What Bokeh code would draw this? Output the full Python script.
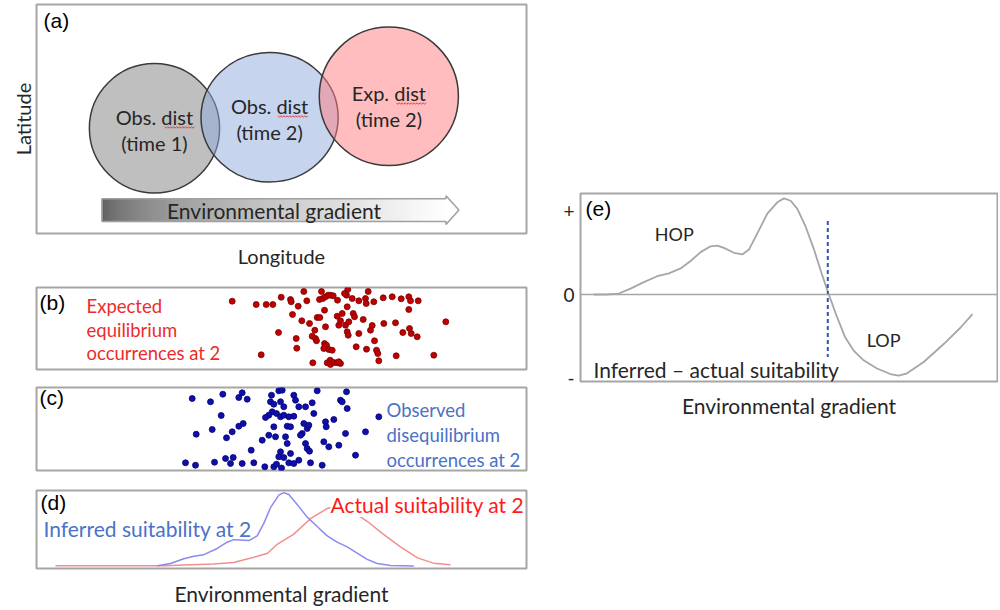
import numpy as np
from bokeh.plotting import figure
from bokeh.models import Label, Span, FixedTicker, Spacer, Range1d
from bokeh.layouts import row, column
from bokeh.embed import file_html
from bokeh.resources import INLINE

FONT = "Lato"
TAG_FONT = "Liberation Sans"
FRAME = "#a6a6a6"
TEXT = "#262626"

# ---------------- data ----------------
# (a) distributions (longitude / latitude units of the panel)
dist_names = ["Obs. dist", "Obs. dist", "Exp. dist"]
dist_times = ["(time 1)", "(time 2)", "(time 2)"]
dist_lon = [118.7, 234.5, 354.5]
dist_lat = [105.7, 116.7, 137.8]
dist_w = [131, 138, 140]
dist_h = [130, 130, 139]
dist_colors = ["#808080", "#8faadc", "#ff7c80"]

# (b) expected equilibrium occurrences at time 2
exp_x = [195.7, 219.7, 229.7, 236.3, 244.7, 254.0, 254.7, 261.7, 267.3, 270.3,
         256.0, 265.3, 273.0, 242.0, 259.7, 260.3, 224.7, 276.3, 278.3, 275.7,
         279.0, 280.0, 280.7, 283.3, 283.0, 285.0, 286.3, 289.0, 291.7, 294.0,
         296.7, 301.0, 288.0, 289.0, 288.0, 290.0, 287.3, 292.3, 295.7, 293.7,
         290.7, 294.0, 297.3, 300.7, 304.0, 302.3, 300.7, 302.3, 304.0, 305.7,
         310.7, 309.0, 310.0, 308.0, 311.3, 312.3, 310.7, 311.7, 315.7, 316.7,
         318.0, 319.7, 322.3, 322.3, 326.7, 329.0, 329.7, 330.0, 331.7, 334.0,
         335.7, 337.3, 338.0, 340.0, 341.3, 342.3, 346.7, 347.3, 355.7, 359.0,
         359.7, 364.7, 366.3, 372.3, 374.0, 372.3, 373.0, 374.7, 380.7, 381.7,
         397.3, 409.3]
exp_y = [68.3, 65, 65, 65, 72.3, 70, 67.7, 63.3, 78, 68.7,
         55, 48.7, 46, 37, 31, 21.3, 14.7, 6.7, 39.3, 33.3,
         31, 28.7, 52, 52, 70, 78, 71, 72.7, 74.3, 74.3,
         73.7, 69.3, 59.3, 42.7, 26, 24.3, 21, 20, 19.3, 9.3,
         6.7, 5, 7, 6.7, 6, 7.7, 53.3, 44.3, 48.7, 56,
         62.7, 44.3, 74.3, 76, 80, 47.7, 37.7, 34.3, 71, 56,
         52.7, 22.7, 36, 68.7, 50, 71, 66, 20.3, 78, 39.3,
         44, 67.7, 28.7, 19.3, 16, 8.7, 71.7, 46, 72.7, 46.7,
         13.7, 70.7, 37, 72.7, 68.7, 60, 41, 36, 32.7, 68.7,
         14.3, 47.7]

# (c) observed disequilibrium occurrences at time 2
obs_x = [155.7, 174.0, 186.3, 202.3, 205.7, 210.7, 184.7, 159.7, 175.7, 190.0,
         195.7, 202.3, 206.7, 214.7, 149.0, 159.0, 178.0, 189.0, 194.0, 196.7,
         205.7, 217.3, 228.3, 237.3, 242.3, 245.7, 235.0, 234.0, 237.3, 244.0,
         247.3, 235.7, 232.3, 229.0, 240.0, 244.0, 247.3, 257.3, 259.0, 262.3,
         269.0, 275.7, 280.7, 277.3, 257.3, 252.3, 250.7, 254.0, 237.3, 232.3,
         239.0, 225.7, 249.0, 250.7, 244.0, 242.3, 247.3, 254.0, 252.3, 257.3,
         240.0, 245.0, 262.3, 265.7, 270.7, 269.0, 270.7, 273.0, 274.0, 285.7,
         287.3, 292.3, 289.0, 289.7, 297.3, 302.3, 309.0, 310.7, 310.0, 304.0,
         305.7, 319.0, 329.0, 342.3, 267.3, 272.3, 264.0]
obs_y = [72, 68.7, 76.3, 73, 77.7, 71.3, 55, 36.3, 41, 32.7,
         38.7, 44.3, 47, 20.3, 7.7, 5.3, 8.3, 12, 7, 13,
         7, 7.7, 3.7, 3.7, 79.7, 80.3, 75.3, 68.7, 66.3, 68.7,
         63.7, 58.7, 55.3, 53, 57, 53.7, 55.3, 75.3, 70.3, 63.7,
         63.7, 67.7, 79.7, 57, 54.3, 53.7, 44.3, 43.7, 43.7, 35.3,
         33.7, 30.3, 33.7, 27, 18.7, 13.7, 13, 17, 7.7, 7,
         6.3, 2.5, 10.3, 37, 42, 27, 22, 19.3, 7.7, 5.3,
         28.7, 23.7, 48.7, 43.7, 51, 25.3, 37, 62, 78.7, 70.3,
         68.7, 15.3, 38.7, 53.7, 47, 45.3, 35.3]

# (d) suitability curves along the environmental gradient
inf_x = [120.7, 134, 147.3, 157.3, 167.3, 180.7, 190.7, 197.3, 204, 212.3, 220.7,
         227.3, 234, 242.3, 247.3, 252.3, 260.7, 270.7, 280.7, 290.7, 300.7,
         310.7, 320.7, 330.7, 340.7, 354, 377.3]
inf_y = [3, 5.3, 10.3, 13, 14.7, 21.3, 28, 30.7, 30.3, 29.7, 34.7,
         48, 64.7, 78, 80.7, 78.7, 68, 54.7, 44.7, 34.7, 28,
         23, 16.3, 9.7, 5.3, 3.3, 2.7]
act_x = [19, 127, 177, 197, 221, 231, 241, 257, 274, 291, 304, 317, 331, 347,
         364, 381, 397, 414]
act_y = [3, 3, 4.7, 6.3, 13, 16.3, 26, 36.3, 53, 64, 66.3, 60, 50, 36.3,
         23, 11.3, 5.7, 4]

# (e) inferred - actual suitability
diff_x = [3.2, 6.4, 9.2, 12.0, 15.2, 18.4, 21.2, 24.0, 26.4, 28.8, 31.2, 32.8,
          34.4, 36.8, 38.8, 40.4, 42.4, 44.8, 47.2, 48.8, 50.4, 52.0, 54.0, 56.0,
          58.0, 59.6, 61.6, 63.5, 65.5, 67.9, 71.1, 74.3, 76.3, 78.3, 82.3, 87.1,
          91.1, 94.0]
diff_y = [0, 0, 0.012, 0.071, 0.149, 0.220, 0.255, 0.314, 0.404, 0.510, 0.580,
          0.588, 0.561, 0.502, 0.482, 0.541, 0.737, 0.973, 1.110, 1.157, 1.129,
          1.031, 0.816, 0.541, 0.227, -0.008, -0.282, -0.518, -0.675, -0.792,
          -0.890, -0.957, -0.976, -0.949, -0.812, -0.596, -0.400, -0.235]
threshold_x = 59.3
threshold_y = [0.886, -0.753]
e_ticks = [-1, 0, 1]
e_tick_labels = ["-", "0", "+"]


# ---------------- helpers ----------------
def make_fig(w, h, xr, yr, left, right, top, bottom, xaxis=False, yaxis=False):
    p = figure(width=w, height=h, x_range=Range1d(*xr), y_range=Range1d(*yr),
               toolbar_location=None, output_backend="svg",
               x_axis_location="below" if xaxis else None,
               y_axis_location="left" if yaxis else None,
               min_border_left=left, min_border_right=right,
               min_border_top=top, min_border_bottom=bottom)
    p.xgrid.visible = False
    p.ygrid.visible = False
    p.outline_line_color = FRAME
    p.outline_line_width = 2
    p.background_fill_color = "white"
    p.border_fill_color = "white"
    return p


def label_axis(ax, text, standoff, size="20px"):
    ax.axis_label = text
    ax.axis_label_text_font = FONT
    ax.axis_label_text_font_size = size
    ax.axis_label_text_font_style = "normal"
    ax.axis_label_text_color = TEXT
    ax.axis_label_standoff = standoff
    ax.axis_line_color = None
    ax.major_tick_line_color = None
    ax.minor_tick_line_color = None
    ax.major_tick_out = 0
    ax.major_tick_in = 0
    ax.minor_tick_out = 0
    ax.minor_tick_in = 0
    ax.major_label_standoff = 0
    ax.ticker = FixedTicker(ticks=[])


def text(p, x, y, s, size="16px", color=TEXT, font=FONT, align="left", **kw):
    p.add_layout(Label(x=x, y=y, text=s, text_font=font, text_font_size=size,
                       text_color=color, text_align=align, text_baseline="middle", **kw))


# ---------------- panel (a) ----------------
pa = make_fig(540, 270, (0, 493), (0, 230), 33, 14, 4, 36, xaxis=True, yaxis=True)
label_axis(pa.xaxis[0], "Longitude", 10)
label_axis(pa.yaxis[0], "Latitude", 2)

pa.ellipse(x=dist_lon, y=dist_lat, width=dist_w, height=dist_h,
           fill_color=dist_colors, fill_alpha=0.5, line_color="#3a3a3a", line_width=1.5)
name_dy = [11, 11.5, 3.5]
time_dy = [-15, -14.5, -22.5]
for lon, lat, nm, tm, a, b in zip(dist_lon, dist_lat, dist_names, dist_times, name_dy, time_dy):
    text(pa, lon, lat + a, nm, size="20px", align="center")
    text(pa, lon, lat + b, tm, size="20px", align="center")

# red spell-check squiggles under the word "dist"
SQ_X0 = [129, 243, 362]
SQ_X1 = [159, 273, 392]
SQ_Y = [106.5, 117.5, 130.5]
for x0, x1, yy in zip(SQ_X0, SQ_X1, SQ_Y):
    sx = np.arange(x0, x1 + 0.1, 1.5)
    sy = yy + 0.8 * (-1.0) ** np.arange(len(sx))
    pa.line(sx, sy, line_color="#e02828", line_width=0.8)

# gradient arrow
AX0, AX1, ATIP, AY0, AY1, AH0, AH1 = 66, 412, 425, 12, 35, 9, 38
n = 150
edges = np.linspace(AX0, AX1, n + 1)
t = (edges[:-1] + edges[1:]) / 2
t = (t - AX0) / (AX1 - AX0)
lev = np.clip(92 + 163 * t ** 0.6, 0, 255).astype(int)
cols = ["#%02x%02x%02x" % (v, v, v) for v in lev]
pa.quad(left=edges[:-1], right=edges[1:], bottom=AY0, top=AY1,
        fill_color=cols, line_color=cols, line_width=1)
pa.patch([AX1, AX1, ATIP, AX1, AX1], [AY0, AH0, (AY0 + AY1) / 2, AH1, AY1],
         fill_color="white", line_color=None)
pa.line([AX1, AX0, AX0, AX1, AX1, ATIP, AX1, AX1],
        [AY1, AY1, AY0, AY0, AH0, (AY0 + AY1) / 2, AH1, AY1],
        line_color="#a0a0a0", line_width=1.5)
text(pa, 239, 23, "Environmental gradient", size="21px", align="center")
text(pa, 7, 214, "(a)", size="21px", font=TAG_FONT, color="black")

# ---------------- panel (b) ----------------
pb = make_fig(540, 108, (0, 490), (0, 82), 36, 14, 17, 9)
pb.scatter(exp_x, exp_y, size=6, fill_color="#c00000", line_color="#7a0000", line_width=0.8)
text(pb, 3, 67, "(b)", size="21px", font=TAG_FONT, color="black")
RED = "#ee2b2b"
text(pb, 50, 64, "Expected", size="18.5px", color=RED)
text(pb, 50, 39.5, "equilibrium", size="18.5px", color=RED)
text(pb, 50, 17, "occurrences at 2", size="18.5px", color=RED)

# ---------------- panel (c) ----------------
pc = make_fig(540, 100, (0, 490), (0, 83), 36, 14, 9, 8)
pc.scatter(obs_x, obs_y, size=6, fill_color="#1010a8", line_color="#00007a", line_width=0.8)
text(pc, 3, 73, "(c)", size="21px", font=TAG_FONT, color="black")
BLUE = "#4a72c8"
text(pc, 350, 61, "Observed", size="18.5px", color=BLUE)
text(pc, 350, 36, "disequilibrium", size="18.5px", color=BLUE)
text(pc, 350, 11, "occurrences at 2", size="18.5px", color=BLUE)

# ---------------- panel (d) ----------------
pd_ = make_fig(540, 130, (0, 490), (0, 83), 36, 14, 12, 35, xaxis=True)
label_axis(pd_.xaxis[0], "Environmental gradient", 12, size="21px")
pd_.line(act_x, act_y, line_color="#f28e8e", line_width=1.5)
pd_.line(inf_x, inf_y, line_color="#8a8af0", line_width=1.5)
text(pd_, 4, 70, "(d)", size="21px", font=TAG_FONT, color="black")
text(pd_, 7, 43, "Inferred suitability at 2", size="21px", color=BLUE)
text(pd_, 294, 68, "Actual suitability at 2", size="21px", color="#ff1a1a",
     background_fill_color="white")

# ---------------- panel (e) ----------------
pe = make_fig(458, 240, (0, 100), (-1.047, 1.216), 40, 1, 13, 35, xaxis=True, yaxis=True)
label_axis(pe.xaxis[0], "Environmental gradient", 11, size="21px")
ya = pe.yaxis[0]
ya.axis_line_color = None
ya.major_tick_line_color = None
ya.minor_tick_line_color = None
ya.major_tick_out = 0
ya.minor_tick_out = 0
ya.ticker = FixedTicker(ticks=e_ticks)
ya.major_label_overrides = {k: v for k, v in zip(e_ticks, e_tick_labels)}
ya.major_label_text_font = FONT
ya.major_label_text_font_size = "19px"
ya.major_label_text_color = TEXT
ya.major_label_standoff = 6
pe.add_layout(Span(location=0, dimension="width", line_color="#a6a6a6", line_width=1.5))
pe.line(diff_x, diff_y, line_color="#a6a6a6", line_width=1.8)
pe.line([threshold_x, threshold_x], threshold_y, line_color="#2e54b8", line_width=2,
        line_dash="4 3")
text(pe, 1.2, 1.035, "(e)", size="21px", font=TAG_FONT, color="black")
text(pe, 22.5, 0.73, "HOP", size="18px", align="center")
text(pe, 72.7, -0.553, "LOP", size="18px", align="center")
text(pe, 3.1, -0.906, "Inferred \u2013 actual suitability", size="21px")

left = column(pa, pb, pc, pd_)
right = column(Spacer(width=458, height=180), pe)
layout = row(left, right)

open("out.html", "w").write(file_html(layout, INLINE))
